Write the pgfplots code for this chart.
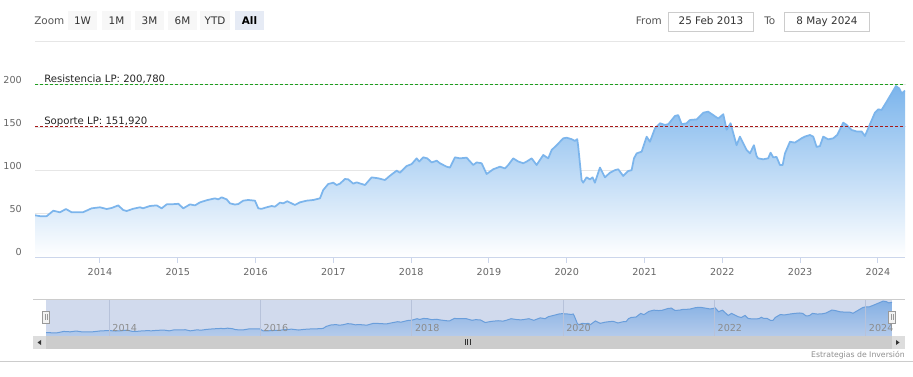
\documentclass[border=0pt]{standalone}
\usepackage{pgfplots}
\pgfplotsset{compat=1.18}
\usepackage{pgfplotstable}
\usepackage{fontspec}
\setmainfont{DejaVu Sans}
\definecolor{linec}{HTML}{7CB5EC}
\definecolor{gridc}{HTML}{E6E6E6}
\definecolor{axisc}{HTML}{CCD6EB}
\definecolor{labelc}{HTML}{666666}
\definecolor{selc}{HTML}{555555}
\definecolor{btnc}{HTML}{F7F7F7}
\definecolor{btnsel}{HTML}{E6EBF5}
\definecolor{btntext}{HTML}{333333}
\definecolor{boxc}{HTML}{CCCCCC}
\definecolor{resc}{HTML}{1E9E1E}
\definecolor{supc}{HTML}{A81818}
\definecolor{navmask}{HTML}{D1DAED}
\definecolor{navgrid}{HTML}{B7C2DA}
\definecolor{navlab}{HTML}{8C8C8C}
\definecolor{navline}{HTML}{6A9EDB}
\definecolor{navtop}{HTML}{84B0E4}
\definecolor{navbot}{HTML}{B5CBEB}
\definecolor{barc}{HTML}{CCCCCC}
\definecolor{sbtn}{HTML}{DDDDDD}
\definecolor{handlef}{HTML}{F2F2F2}
\definecolor{handled}{HTML}{999999}
\definecolor{credc}{HTML}{909090}
\newcommand{\ticfont}{\fontsize{7.2pt}{8pt}\selectfont}
\newcommand{\selfont}{\fontsize{7.8pt}{9pt}\selectfont}
\newcommand{\plfont}{\fontsize{7.6pt}{9pt}\selectfont}
\pgfplotstableread{
x y
2013.165 48.5
2013.229 47.5
2013.315 47.5
2013.400 53.8
2013.486 52.0
2013.563 55.8
2013.636 52.0
2013.717 52.0
2013.781 52.0
2013.893 56.6
2014.000 57.8
2014.086 55.8
2014.150 57.0
2014.235 60.0
2014.299 54.6
2014.343 53.5
2014.424 56.0
2014.514 57.8
2014.553 56.6
2014.643 59.3
2014.729 60.0
2014.793 56.6
2014.857 61.2
2014.986 61.6
2015.006 62.0
2015.071 56.6
2015.157 61.2
2015.221 60.0
2015.285 63.5
2015.371 66.0
2015.478 68.2
2015.521 67.0
2015.564 69.4
2015.629 67.0
2015.671 62.4
2015.735 61.0
2015.778 61.6
2015.842 65.5
2015.906 66.3
2015.992 65.5
2016.035 56.6
2016.078 56.0
2016.143 57.8
2016.207 59.3
2016.249 58.5
2016.314 63.2
2016.356 62.4
2016.407 64.8
2016.506 60.5
2016.571 63.6
2016.657 65.5
2016.742 66.3
2016.828 68.2
2016.870 77.9
2016.934 84.9
2016.999 86.4
2017.042 83.7
2017.085 85.3
2017.149 90.7
2017.191 90.3
2017.256 85.3
2017.299 86.8
2017.406 83.7
2017.492 92.6
2017.578 91.5
2017.663 89.5
2017.728 94.5
2017.814 100.4
2017.856 98.0
2017.942 105.8
2018.006 108.0
2018.071 114.7
2018.104 111.0
2018.156 115.9
2018.207 114.7
2018.264 110.0
2018.328 112.0
2018.370 109.0
2018.456 105.0
2018.499 104.0
2018.563 115.9
2018.627 114.7
2018.713 115.5
2018.798 107.0
2018.842 110.0
2018.906 109.0
2018.970 96.5
2019.055 102.0
2019.141 105.0
2019.206 103.0
2019.248 107.0
2019.312 114.7
2019.377 111.0
2019.441 109.0
2019.485 111.0
2019.549 114.7
2019.613 107.0
2019.698 118.6
2019.762 114.7
2019.806 124.4
2019.870 130.0
2019.913 134.0
2019.955 138.0
2019.999 138.7
2020.063 137.0
2020.105 135.0
2020.135 137.0
2020.148 128.0
2020.191 89.5
2020.211 86.4
2020.255 92.6
2020.298 90.3
2020.332 92.6
2020.362 86.4
2020.427 104.0
2020.491 92.6
2020.555 98.0
2020.620 101.0
2020.662 102.0
2020.726 94.2
2020.790 100.0
2020.834 101.0
2020.864 114.7
2020.899 120.5
2020.963 122.5
2021.027 139.9
2021.069 134.0
2021.134 149.6
2021.198 155.5
2021.262 153.6
2021.305 154.4
2021.391 164.0
2021.433 165.0
2021.477 154.4
2021.541 155.5
2021.584 159.3
2021.670 160.0
2021.755 167.8
2021.818 169.0
2021.883 165.0
2021.947 161.0
2022.012 166.0
2022.055 148.0
2022.106 155.5
2022.183 130.0
2022.226 140.0
2022.312 124.4
2022.355 120.5
2022.406 130.0
2022.440 117.4
2022.461 114.7
2022.525 113.6
2022.589 114.7
2022.620 121.3
2022.654 115.9
2022.697 116.3
2022.740 107.0
2022.775 107.0
2022.805 120.5
2022.869 134.0
2022.933 133.0
2023.018 138.0
2023.061 140.0
2023.126 141.9
2023.168 140.0
2023.212 128.0
2023.254 129.0
2023.297 140.0
2023.361 136.8
2023.425 138.0
2023.477 142.0
2023.554 156.2
2023.597 153.6
2023.662 147.7
2023.726 146.0
2023.790 146.0
2023.833 140.7
2023.875 149.6
2023.961 167.8
2024.004 171.7
2024.047 171.0
2024.112 180.6
2024.176 190.3
2024.231 198.8
2024.274 196.0
2024.305 190.3
2024.348 193.4
}\data
\begin{document}
\begin{tikzpicture}
\path[use as bounding box] (0pt,0pt) rectangle (684.75pt,-282.75pt);
\begin{scope}[x=0.75pt,y=-0.75pt]
\fill[white] (0,0) rectangle (913,377);
% range selector
\node[anchor=base west, font=\selfont, text=selc, inner sep=0pt] at (34,24.5) {Zoom};
\foreach \xa/\w/\lab in {68/29/1W,102/29/1M,135/29/3M,168/29/6M,200/30/YTD} {
  \fill[btnc] (\xa,11) rectangle ++(\w,19);
  \node[anchor=base, font=\selfont, text=btntext, inner sep=0pt] at ({\xa+\w/2},24.5) {\lab};
}
\fill[btnsel] (235,11) rectangle ++(29,19);
\node[anchor=base, font=\selfont\bfseries, text=black, inner sep=0pt] at (249.5,24.5) {All};
\node[anchor=base east, font=\selfont, text=selc, inner sep=0pt] at (662,24.5) {From};
\draw[boxc, fill=white, line width=0.75pt] (668.5,12.5) rectangle (753.5,31.5);
\node[anchor=base, font=\selfont, text=btntext, inner sep=0pt] at (711,24.5) {25 Feb 2013};
\node[anchor=base west, font=\selfont, text=selc, inner sep=0pt] at (764,24.5) {To};
\draw[boxc, fill=white, line width=0.75pt] (784.5,12.5) rectangle (869.5,31.5);
\node[anchor=base, font=\selfont, text=btntext, inner sep=0pt] at (827,24.5) {8 May 2024};
\fill[navmask] (46,300) rectangle (892,336);
\end{scope}
% main chart
\begin{axis}[at={(26.25pt,-192.75pt)}, anchor=south west, scale only axis,
  width=652.5pt, height=161.25pt,
  xmin=2013.165, xmax=2024.348, ymin=0, ymax=250,
  axis x line*=bottom, axis y line*=left,
  y axis line style={draw=none},
  x axis line style={draw=axisc, line width=1.1pt, -},
  ytick={0,50,100,150,200,250}, yticklabels={0,50,100,150,200,{}},
  ymajorgrids, major grid style={draw=gridc, line width=0.75pt},
  ytick style={draw=none},
  xtick={2014,2015,2016,2017,2018,2019,2020,2021,2022,2023,2024},
  xticklabels={2014,2015,2016,2017,2018,2019,2020,2021,2022,2023,2024},
  tick align=outside, major tick length=4.5pt,
  xtick style={draw=axisc, line width=0.75pt},
  ticklabel style={font=\ticfont, text=labelc, inner sep=0pt},
  yticklabel style={anchor=base east, xshift=-5.25pt, yshift=1.1pt},
  xticklabel style={anchor=base, yshift=-9pt},
]
\addplot[draw=none, top color=linec, bottom color=white] table[x=x,y=y] {\data} \closedcycle;
\addplot[draw=linec, line width=1.3pt, no marks, line join=round] table[x=x,y=y] {\data};
\addplot[draw=resc, dash pattern=on 2.25pt off 1.5pt, line width=0.75pt, no marks] coordinates {(2013.165,200.78) (2024.348,200.78)};
\addplot[draw=supc, dash pattern=on 2.25pt off 1.5pt, line width=0.75pt, no marks] coordinates {(2013.165,151.92) (2024.348,151.92)};
\node[anchor=base west, font=\plfont, text=black!85, inner sep=0pt, xshift=6.75pt, yshift=1.7pt] at (axis cs:2013.165,200.78) {Resistencia LP: 200,780};
\node[anchor=base west, font=\plfont, text=black!85, inner sep=0pt, xshift=6.75pt, yshift=1.7pt] at (axis cs:2013.165,151.92) {Soporte LP: 151,920};
\end{axis}
% navigator
\begin{axis}[at={(34.5pt,-252pt)}, anchor=south west, scale only axis,
  width=634.5pt, height=27pt,
  xmin=2013.165, xmax=2024.348, ymin=32, ymax=204,
  axis line style={draw=none}, ytick=\empty, axis on top,
  xtick={2014,2016,2018,2020,2022,2024},
  xticklabels={2014,2016,2018,2020,2022,2024},
  xmajorgrids, major grid style={draw=navgrid, line width=0.75pt},
  major tick length=0pt,
  xticklabel style={anchor=base west, inner sep=0pt, xshift=2.25pt, yshift=3pt, text=navlab, font=\ticfont},
]
\addplot[draw=none, top color=navtop, bottom color=navbot] table[x=x,y=y] {\data} \closedcycle;
\addplot[draw=navline, line width=0.75pt, no marks] table[x=x,y=y] {\data};
\end{axis}
\begin{scope}[x=0.75pt,y=-0.75pt]
\draw[boxc, line width=0.75pt] (33,300) -- (905,300);
% scrollbar
\fill[barc] (46,336) rectangle (892,349);
\fill[sbtn] (33,336) rectangle (46,349);
\fill[sbtn] (892,336) rectangle (905,349);
\fill[btntext] (37.5,342.5) -- (41,340) -- (41,345) -- cycle;
\fill[btntext] (899.5,342.5) -- (896,340) -- (896,345) -- cycle;
\draw[btntext, line width=0.6pt] (465,339.5) -- (465,345.5) (467.5,339.5) -- (467.5,345.5) (470,339.5) -- (470,345.5);
% handles
\draw[fill=handlef, draw=handled, line width=0.75pt] (42.5,311.5) rectangle (49.5,323.5);
\draw[handled, line width=0.6pt] (45,314.5) -- (45,320.5) (47,314.5) -- (47,320.5);
\draw[fill=handlef, draw=handled, line width=0.75pt] (888.5,311.5) rectangle (895.5,323.5);
\draw[handled, line width=0.6pt] (891,314.5) -- (891,320.5) (893,314.5) -- (893,320.5);
% footer
\draw[boxc, line width=0.75pt] (0,361.5) -- (913,361.5);
\node[anchor=base east, font=\fontsize{5.8pt}{7pt}\selectfont, text=credc, inner sep=0pt] at (905,358) {Estrategias de Inversión};
\end{scope}
\end{tikzpicture}
\end{document}
